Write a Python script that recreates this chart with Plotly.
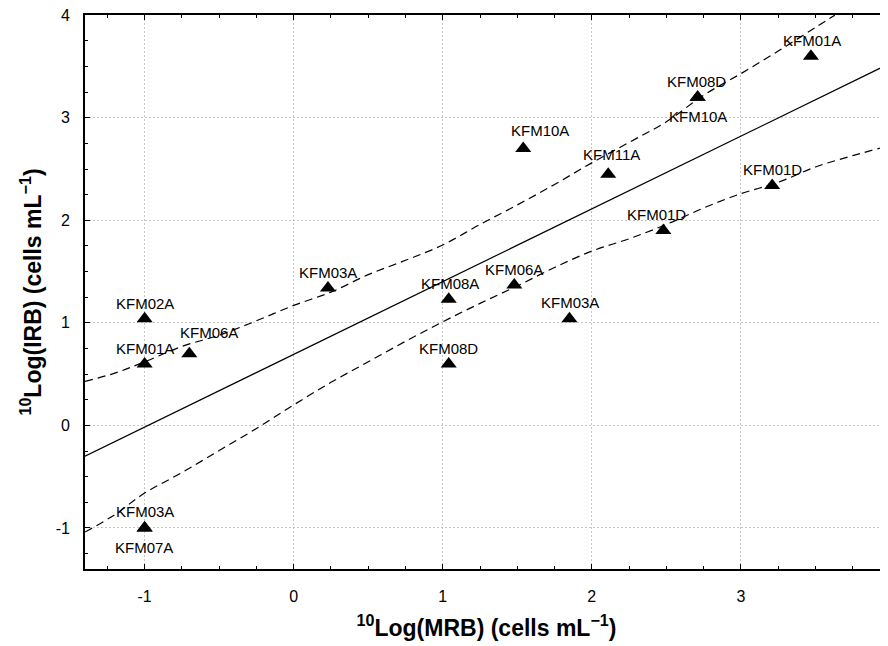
import plotly.graph_objects as go

# ---- data ----
well_labels = ["KFM01A", "KFM08D", "KFM10A", "KFM10A", "KFM11A", "KFM01D", "KFM01D",
               "KFM06A", "KFM03A", "KFM03A", "KFM08A", "KFM08D", "KFM02A", "KFM01A",
               "KFM06A", "KFM03A", "KFM07A"]
log_mrb = [3.47, 2.71, 2.71, 1.54, 2.11, 3.21, 2.48, 1.48, 1.85, 0.23, 1.04, 1.04,
           -1.00, -1.00, -0.70, -1.00, -1.00]
log_irb = [3.60, 3.20, 3.20, 2.70, 2.45, 2.34, 1.90, 1.37, 1.04, 1.34, 1.23, 0.60,
           1.04, 0.60, 0.70, -1.00, -1.00]

# regression line end points
fit_x = [-1.4, 4.0]
fit_y = [-0.30, 3.53]

# confidence band (upper)
upper_x = [-1.4, -1.2, -1.0, -0.75, -0.5, -0.25, 0.0, 0.25, 0.5, 0.75, 1.0, 1.25,
           1.5, 1.75, 2.0, 2.25, 2.5, 2.75, 3.0, 3.25, 3.5, 3.63]
upper_y = [0.43, 0.51, 0.62, 0.77, 0.88, 1.02, 1.17, 1.30, 1.47, 1.61, 1.76, 1.96,
           2.15, 2.35, 2.56, 2.76, 2.96, 3.22, 3.43, 3.65, 3.88, 4.00]
# confidence band (lower)
lower_x = [-1.4, -1.2, -1.0, -0.75, -0.5, -0.25, 0.0, 0.25, 0.5, 0.75, 1.0, 1.25,
           1.5, 1.75, 2.0, 2.25, 2.5, 2.75, 3.0, 3.25, 3.5, 3.75, 4.0]
lower_y = [-1.04, -0.87, -0.66, -0.46, -0.245, -0.03, 0.20, 0.42, 0.62, 0.82, 1.01,
           1.19, 1.36, 1.54, 1.70, 1.82, 1.96, 2.12, 2.26, 2.37, 2.52, 2.63, 2.73]

x_ticks = [-1, 0, 1, 2, 3]
y_ticks = [-1, 0, 1, 2, 3, 4]

# label offsets in pixels (dx, dy)
label_shift = [(1, 16), (-1, 16), (0, -19), (17, 18), (3, 20), (0, 16), (-7, 16),
               (0, 15), (1, 16), (0, 16), (1, 16), (0, 15), (0, 15), (0, 15),
               (20, 21), (0, 16), (-1, -20)]

XR = [-1.4, 3.987]
YR = [-1.4, 4.002]
FONT = "Liberation Sans, Arial, sans-serif"

fig = go.Figure()
fig.add_trace(go.Scatter(x=fit_x, y=fit_y, mode="lines",
                         line=dict(color="black", width=1.2), hoverinfo="skip"))
fig.add_trace(go.Scatter(x=upper_x, y=upper_y, mode="lines", line_shape="spline",
                         line=dict(color="black", width=1.2, dash="8px,5px"), hoverinfo="skip"))
fig.add_trace(go.Scatter(x=lower_x, y=lower_y, mode="lines", line_shape="spline",
                         line=dict(color="black", width=1.2, dash="8px,5px"), hoverinfo="skip"))
fig.add_trace(go.Scatter(x=log_mrb, y=log_irb, mode="markers",
                         marker=dict(symbol="triangle-up", size=14, color="black",
                                     line=dict(width=0)),
                         text=well_labels))

annotations = []
for xv, yv, lab, (dx, dy) in zip(log_mrb, log_irb, well_labels, label_shift):
    annotations.append(dict(x=xv, y=yv, xref="x", yref="y", text=lab, showarrow=False,
                            xshift=dx, yshift=dy,
                            font=dict(family=FONT, size=15, color="black")))
# partially visible "4" tick label at the right edge
annotations.append(dict(x=(4 - XR[0]) / (XR[1] - XR[0]), y=0, xref="paper", yref="paper",
                        text="4", showarrow=False, xanchor="center", yanchor="top",
                        yshift=-16, font=dict(family=FONT, size=16, color="black")))

fig.update_layout(
    width=880, height=638, autosize=False,
    margin=dict(l=77, r=0, t=7, b=77, autoexpand=False),
    paper_bgcolor="white", plot_bgcolor="white",
    showlegend=False,
    font=dict(family=FONT, color="black"),
    annotations=annotations,
    xaxis=dict(
        range=XR, tickmode="array", tickvals=x_ticks, ticktext=[str(v) for v in x_ticks],
        ticks="inside", ticklen=5, tickwidth=1.2, tickcolor="black",
        minor=dict(dtick=0.25, ticks="inside", ticklen=3, tickcolor="black", showgrid=False),
        showline=True, linecolor="black", linewidth=1.6, mirror="ticks",
        showgrid=True, gridcolor="#c4c4c4", griddash="2px,2px", gridwidth=1,
        zeroline=False, ticklabelstandoff=12, automargin=False,
        ticklabeloverflow="allow",
        tickfont=dict(family=FONT, size=16, color="black"),
        title=dict(text="<b><sup>10</sup>Log(MRB) (cells mL<sup>−1</sup>)</b>",
                   font=dict(family=FONT, size=23, color="black"), standoff=16),
    ),
    yaxis=dict(
        range=YR, tickmode="array", tickvals=y_ticks, ticktext=[str(v) for v in y_ticks],
        ticks="inside", ticklen=5, tickwidth=1.2, tickcolor="black",
        minor=dict(dtick=0.25, tick0=0, ticks="inside", ticklen=3, tickcolor="black",
                   showgrid=False),
        showline=True, linecolor="black", linewidth=1.6, mirror=False,
        showgrid=True, gridcolor="#c4c4c4", griddash="2px,2px", gridwidth=1,
        zeroline=False, ticklabelstandoff=10, automargin=False,
        ticklabeloverflow="allow",
        tickfont=dict(family=FONT, size=16, color="black"),
        title=dict(text="<b><sup>10</sup>Log(IRB) (cells mL<sup>−1</sup>)</b>",
                   font=dict(family=FONT, size=23, color="black"), standoff=8),
    ),
    yaxis2=dict(
        range=YR, overlaying="y", side="right", showline=False, showgrid=False,
        zeroline=False, showticklabels=False, tickmode="array", tickvals=y_ticks,
        ticks="inside", ticklen=5, tickwidth=1.2, tickcolor="black", automargin=False,
        minor=dict(dtick=0.25, tick0=0, ticks="inside", ticklen=3, tickcolor="black",
                   showgrid=False),
    ),
)

fig.write_html("out.html")
